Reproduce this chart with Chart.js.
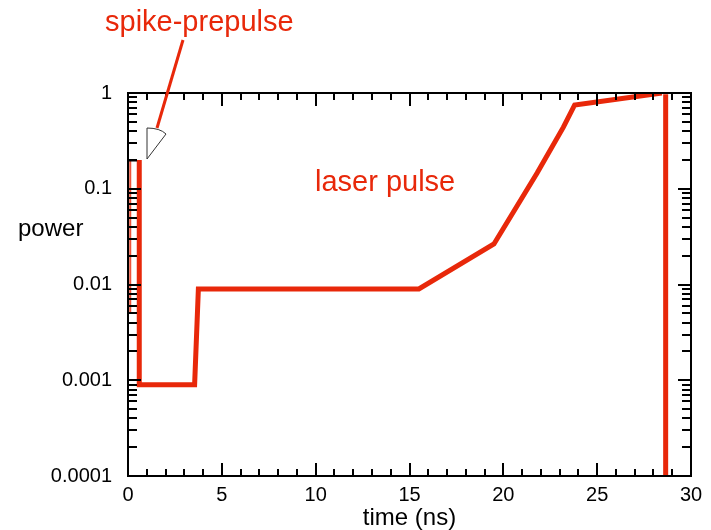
<!DOCTYPE html>
<html>
<head>
<meta charset="utf-8">
<script src="https://cdn.jsdelivr.net/npm/chart.js@4"></script>
<style>
  html, body { margin: 0; padding: 0; background: #fff; }
  #wrap { width: 711px; height: 530px; }
</style>
</head>
<body>
<div id="wrap"><canvas id="c" width="711" height="530"></canvas></div>
<script>
// ---- data ----
const pulseTimes  = [0.6, 0.6,    3.55,   3.75,  15.5,  19.5,   21.8,  23.2, 23.8, 28.45];
const pulsePower  = [0.2, 0.0009, 0.0009, 0.009, 0.009, 0.0265, 0.146, 0.44, 0.75, 1.0];
const dropTimes   = [28.65, 28.65];
const dropPower   = [0.97,  0.0001];
const spikeEdgeTimes = [0.12, 0.12];
const spikeEdgePower = [0.2,  0.005];
const xTickValues = [0, 5, 10, 15, 20, 25, 30];
const yTickValues = [0.0001, 0.001, 0.01, 0.1, 1];
const yTickLabels = ['0.0001', '0.001', '0.01', '0.1', '1'];

const RED = 'rgb(232,40,10)';
const FONT = '"Liberation Sans", Arial, Helvetica, sans-serif';

function pts(xs, ys) { return xs.map((x, i) => ({ x: x, y: ys[i] })); }

const framePlugin = {
  id: 'frame',
  afterDraw(chart) {
    const ctx = chart.ctx;
    const a = chart.chartArea;
    const xs = chart.scales.x, ys = chart.scales.y;
    ctx.save();
    ctx.strokeStyle = '#000';
    ctx.lineWidth = 2;
    ctx.lineCap = 'butt';
    // x ticks (inside, bottom & top)
    for (let v = 0; v <= 30; v++) {
      const px = Math.round(xs.getPixelForValue(v));
      const len = (v % 5 === 0) ? 13 : 7;
      ctx.beginPath();
      ctx.moveTo(px, a.bottom); ctx.lineTo(px, a.bottom - len);
      ctx.moveTo(px, a.top); ctx.lineTo(px, a.top + len);
      ctx.stroke();
    }
    // y log ticks (inside, left & right)
    for (let d = -4; d <= 0; d++) {
      for (let m = 1; m <= 9; m++) {
        const val = m * Math.pow(10, d);
        if (val > 1.0000001) break;
        const py = Math.round(ys.getPixelForValue(val));
        const len = (m === 1) ? 13 : 9;
        ctx.beginPath();
        ctx.moveTo(a.left, py); ctx.lineTo(a.left + len, py);
        ctx.moveTo(a.right, py); ctx.lineTo(a.right - len, py);
        ctx.stroke();
      }
    }
    // frame
    ctx.strokeRect(a.left, a.top, a.right - a.left, a.bottom - a.top);

    // annotation: wedge + pointer
    ctx.lineWidth = 1;
    ctx.strokeStyle = '#333';
    ctx.beginPath();
    ctx.moveTo(147, 128);
    ctx.quadraticCurveTo(160, 128, 166, 134);
    ctx.lineTo(147, 159);
    ctx.closePath();
    ctx.stroke();
    ctx.strokeStyle = '#000';
    ctx.beginPath();
    ctx.moveTo(128, 161); ctx.lineTo(137, 161);
    ctx.stroke();
    ctx.strokeStyle = RED;
    ctx.lineWidth = 3;
    ctx.beginPath();
    ctx.moveTo(157, 128); ctx.lineTo(183, 40);
    ctx.stroke();

    // texts
    ctx.fillStyle = RED;
    ctx.font = '29px ' + FONT;
    ctx.textAlign = 'left';
    ctx.textBaseline = 'middle';
    ctx.fillText('spike-prepulse', 105, 23);
    ctx.fillText('laser pulse', 315, 183);
    ctx.fillStyle = '#000';
    ctx.font = '24px ' + FONT;
    ctx.fillText('power', 18, 229);
    ctx.restore();
  }
};

new Chart(document.getElementById('c'), {
  type: 'line',
  data: {
    datasets: [
      { data: pts(pulseTimes, pulsePower), borderColor: RED, borderWidth: 5, pointRadius: 0, tension: 0, fill: false },
      { data: pts(dropTimes, dropPower), borderColor: RED, borderWidth: 5, pointRadius: 0, tension: 0, fill: false },
      { data: pts(spikeEdgeTimes, spikeEdgePower), borderColor: 'rgba(232,40,10,0.8)', borderWidth: 2, pointRadius: 0, tension: 0, fill: false }
    ]
  },
  options: {
    responsive: false,
    animation: false,
    events: [],
    layout: { padding: { top: 93, right: 20, left: 0, bottom: 0 } },
    plugins: { legend: { display: false }, tooltip: { enabled: false } },
    scales: {
      x: {
        type: 'linear', min: 0, max: 30,
        afterBuildTicks(s) { s.ticks = xTickValues.map(v => ({ value: v })); },
        afterFit(s) { s.height = 54; },
        grid: { display: false, drawTicks: false },
        border: { display: false },
        ticks: { color: '#000', font: { family: FONT, size: 20 }, padding: 7, maxRotation: 0, autoSkip: false },
        title: { display: true, text: 'time (ns)', color: '#000', font: { family: FONT, size: 24 }, padding: { top: 0, bottom: -3 } }
      },
      y: {
        type: 'logarithmic', min: 0.0001, max: 1,
        afterBuildTicks(s) { s.ticks = yTickValues.map(v => ({ value: v })); },
        afterFit(s) { s.width = 128; },
        grid: { display: false, drawTicks: false },
        border: { display: false },
        ticks: {
          color: '#000', font: { family: FONT, size: 20 }, padding: 16, autoSkip: false,
          callback(v) { const i = yTickValues.findIndex(t => Math.abs(t - v) / t < 1e-6); return i >= 0 ? yTickLabels[i] : ''; }
        }
      }
    }
  },
  plugins: [framePlugin]
});
</script>
</body>
</html>
